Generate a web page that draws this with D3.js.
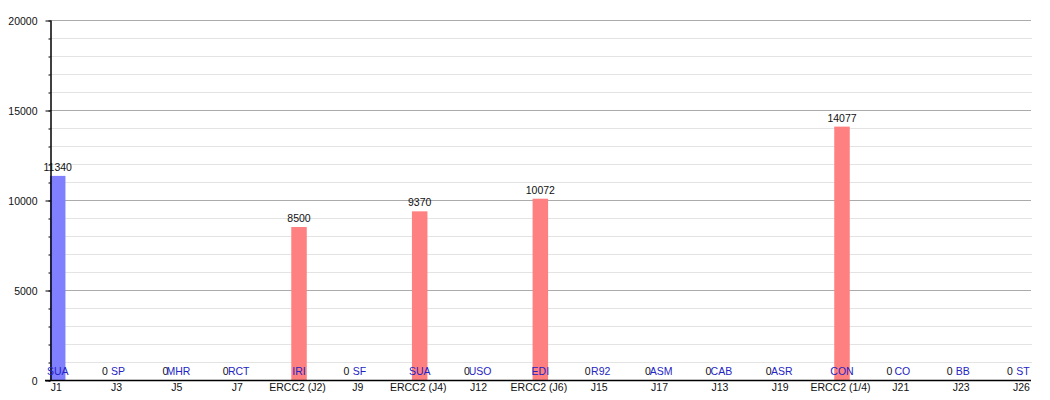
<!DOCTYPE html>
<html>
<head>
<meta charset="utf-8">
<script src="https://cdn.jsdelivr.net/npm/d3@7"></script>
<style>
  html, body { margin: 0; padding: 0; background: #fff; }
  svg { display: block; }
  text { font-family: "Liberation Sans", Arial, sans-serif; }
</style>
</head>
<body>
<svg id="chart" width="1050" height="400"></svg>
<script>
// ---- data ----
const categories = ["J1","J3","J5","J7","ERCC2 (J2)","J9","ERCC2 (J4)","J12","ERCC2 (J6)","J15","J17","J13","J19","ERCC2 (1/4)","J21","J23","J26"];
const values = [11340,0,0,0,8500,0,9370,0,10072,0,0,0,0,14077,0,0,0];
const seriesOf = ["J","J","J","J","ERCC2","J","ERCC2","J","ERCC2","J","J","J","J","ERCC2","J","J","J"];
const names = ["SUA","SP","MHR","RCT","IRI","SF","SUA","USO","EDI","R92","ASM","CAB","ASR","CON","CO","BB","ST"];
const yMajorTicks = [0,5000,10000,15000,20000];
const yMinorTicks = d3.range(0, 20001, 1000);

// ---- layout ----
const svg = d3.select("#chart");
const plotLeft = 50, plotRight = 1031, plotTop = 20, plotBottom = 380;
const y = d3.scaleLinear().domain([0, 20000]).range([plotBottom, plotTop]);
const x = d3.scalePoint().domain(categories).range([55.7, 1021]);
const barW = 15.5, barShift = 2;
const color = d3.scaleOrdinal().domain(["J","ERCC2"]).range(["#8080ff","#ff8080"]);
const fmt = d3.format("d");

// minor grid
svg.append("g").selectAll("line")
  .data(yMinorTicks.filter(v => v % 5000 !== 0))
  .join("line")
  .attr("x1", plotLeft).attr("x2", plotRight + 1)
  .attr("y1", d => y(d) + 0.5).attr("y2", d => y(d) + 0.5)
  .attr("stroke", "#e3e3e3").attr("stroke-width", 1);

// major grid
svg.append("g").selectAll("line")
  .data(yMajorTicks.filter(v => v !== 0))
  .join("line")
  .attr("x1", plotLeft).attr("x2", plotRight)
  .attr("y1", d => y(d) + 0.5).attr("y2", d => y(d) + 0.5)
  .attr("stroke", "#ababab").attr("stroke-width", 1);

// bars
const data = categories.map((c, i) => ({c, v: values[i], s: seriesOf[i], n: names[i]}));
svg.append("g").selectAll("rect")
  .data(data.filter(d => d.v > 0))
  .join("rect")
  .attr("x", d => x(d.c) + barShift - barW / 2)
  .attr("width", barW)
  .attr("y", d => y(d.v))
  .attr("height", d => y(0) - y(d.v))
  .attr("fill", d => color(d.s));

// y axis (minor ticks)
svg.append("g")
  .attr("transform", `translate(${plotLeft + 0.5},0)`)
  .call(d3.axisLeft(y).tickValues(yMinorTicks).tickSize(2).tickFormat(""))
  .call(g => g.select(".domain").remove())
  .call(g => g.selectAll("line").attr("stroke", "#000").attr("transform", "translate(0,0.5)"));

// y axis (major)
svg.append("g")
  .attr("transform", `translate(${plotLeft + 0.5},0)`)
  .call(d3.axisLeft(y).tickValues(yMajorTicks).tickFormat(fmt).tickSize(5).tickPadding(8).tickSizeOuter(0))
  .call(g => g.select(".domain").attr("stroke", "#000").attr("stroke-width", 1.5))
  .call(g => g.selectAll(".tick line").attr("stroke", "#000").attr("transform", "translate(0,0.5)"))
  .call(g => g.selectAll("text").attr("font-size", "10.5px").attr("fill", "#111")
    .attr("font-family", "'Liberation Sans', Arial, sans-serif").attr("dy", "0.45em"));

// x axis baseline
svg.append("line")
  .attr("x1", 45).attr("x2", plotRight)
  .attr("y1", y(0) + 0.5).attr("y2", y(0) + 0.5)
  .attr("stroke", "#000").attr("stroke-width", 1.5);

// x axis labels
svg.append("g")
  .attr("transform", `translate(0,${plotBottom})`)
  .call(d3.axisBottom(x).tickSize(0).tickPadding(4))
  .call(g => g.select(".domain").remove())
  .call(g => g.selectAll("text").attr("font-size", "10.5px").attr("fill", "#111")
    .attr("font-family", "'Liberation Sans', Arial, sans-serif"));

// value labels
svg.append("g").selectAll("text")
  .data(data)
  .join("text")
  .attr("x", d => x(d.c) + barShift + (d.v > 0 ? 0 : -13))
  .attr("y", d => y(d.v) - 5)
  .attr("text-anchor", "middle")
  .attr("font-size", "10.5px")
  .attr("fill", "#111")
  .text(d => fmt(d.v));

// name labels (blue)
svg.append("g").selectAll("text")
  .data(data)
  .join("text")
  .attr("x", d => x(d.c) + barShift)
  .attr("y", y(0) - 5)
  .attr("text-anchor", "middle")
  .attr("font-size", "10.5px")
  .attr("fill", "#2424c4")
  .text(d => d.n);
</script>
</body>
</html>
